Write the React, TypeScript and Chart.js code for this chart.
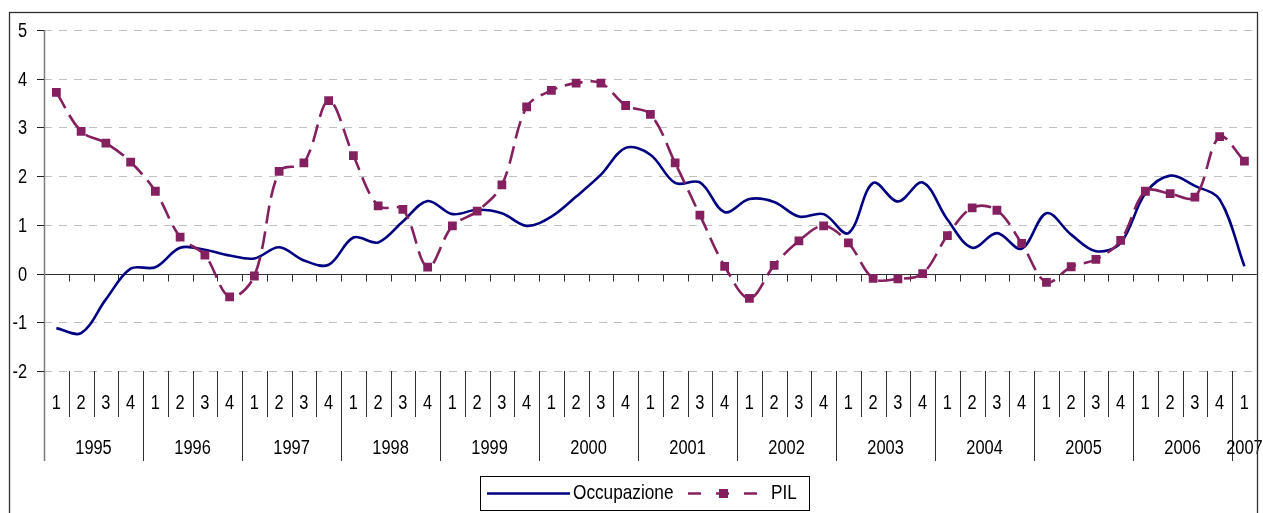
import React, { useEffect, useRef } from "react";
import { Chart, registerables } from "chart.js";

Chart.register(...registerables);

// ---- data ----
const years = ["1995", "1996", "1997", "1998", "1999", "2000", "2001", "2002", "2003", "2004", "2005", "2006", "2007"];
const quarterNames = ["1", "2", "3", "4"];
const lastYearQuarters = 1; // 2007 has only Q1

const occupazione = [
  -1.12, -1.22, -0.53, 0.1,
  0.13, 0.53, 0.49, 0.37,
  0.31, 0.54, 0.27, 0.18,
  0.74, 0.64, 1.07, 1.49,
  1.22, 1.31, 1.24, 0.98,
  1.17, 1.58, 2.03, 2.58,
  2.44, 1.86, 1.87, 1.26,
  1.53, 1.47, 1.17, 1.22,
  0.83, 1.86, 1.48, 1.87,
  1.11, 0.53, 0.83, 0.51,
  1.24, 0.8, 0.46, 0.63,
  1.65, 2.01, 1.8, 1.52,
  0.15,
];

const pil = [
  3.72, 2.92, 2.68, 2.29,
  1.69, 0.75, 0.38, -0.48,
  -0.05, 2.1, 2.27, 3.55,
  2.42, 1.39, 1.32, 0.13,
  0.98, 1.28, 1.82, 3.42,
  3.76, 3.91, 3.91, 3.45,
  3.27, 2.27, 1.2, 0.15,
  -0.51, 0.17, 0.67, 0.98,
  0.63, -0.1, -0.11, 0.0,
  0.78, 1.35, 1.3, 0.62,
  -0.18, 0.14, 0.29, 0.68,
  1.69, 1.64, 1.57, 2.81,
  2.31,
];

const yTicks = [5, 4, 3, 2, 1, 0, -1, -2];
const seriesNames = ["Occupazione", "PIL"];

// categories built from years and quarters
const categories: string[] = [];
const categoryYears: string[] = [];
years.forEach((yr, i) => {
  const n = i === years.length - 1 ? lastYearQuarters : 4;
  for (let q = 0; q < n; q++) {
    categories.push(quarterNames[q]);
    categoryYears.push(yr);
  }
});

const NAVY = "#000080";
const PLUM = "#84205F";
const FONT = '"Liberation Sans", Arial, sans-serif';
const SQUEEZE = 0.82;

function drawText(
  ctx: CanvasRenderingContext2D,
  text: string,
  x: number,
  y: number,
  size: number,
  align: CanvasTextAlign
) {
  ctx.save();
  ctx.translate(x, y);
  ctx.scale(SQUEEZE, 1);
  ctx.font = `${size}px ${FONT}`;
  ctx.fillStyle = "#000";
  ctx.textAlign = align;
  ctx.textBaseline = "middle";
  ctx.fillText(text, 0, 0);
  ctx.restore();
}

const px = (v: number) => Math.round(v) + 0.5;

const decorPlugin = {
  id: "decor",
  beforeDatasetsDraw(chart: any) {
    const { ctx, chartArea: a, scales } = chart;
    const x = scales.x;
    const y = scales.y;
    ctx.save();
    // dashed gridlines
    ctx.strokeStyle = "#c0c0c0";
    ctx.lineWidth = 1;
    ctx.setLineDash([8, 7]);
    for (const v of yTicks) {
      if (v === 0) continue;
      const py = px(y.getPixelForValue(v));
      ctx.beginPath();
      ctx.moveTo(a.left, py);
      ctx.lineTo(a.right, py);
      ctx.stroke();
    }
    ctx.setLineDash([]);
    // zero axis line with tick marks
    const y0 = px(y.getPixelForValue(0));
    ctx.strokeStyle = "#303030";
    ctx.lineWidth = 1.2;
    ctx.beginPath();
    ctx.moveTo(a.left, y0);
    ctx.lineTo(a.right, y0);
    ctx.stroke();
    ctx.lineWidth = 1;
    for (let k = 0; k <= categories.length; k++) {
      const bx = px(x.getPixelForValue(k - 0.5));
      ctx.beginPath();
      ctx.moveTo(bx, y0);
      ctx.lineTo(bx, y0 + 7);
      ctx.stroke();
    }
    ctx.restore();
  },
  afterDraw(chart: any) {
    const { ctx, chartArea: a, scales } = chart;
    const x = scales.x;
    const y = scales.y;
    ctx.save();

    const qBottom = a.bottom + 46;
    const yrBottom = a.bottom + 90;

    // category separators below the plot
    ctx.strokeStyle = "#303030";
    ctx.lineWidth = 1;
    for (let k = 1; k < categories.length; k++) {
      const bx = px(x.getPixelForValue(k - 0.5));
      const isYear = k % 4 === 0;
      ctx.beginPath();
      ctx.moveTo(bx, a.bottom);
      ctx.lineTo(bx, isYear ? yrBottom : qBottom);
      ctx.stroke();
    }

    // y axis line
    const axX = px(a.left);
    ctx.strokeStyle = "#808080";
    ctx.lineWidth = 1.6;
    ctx.beginPath();
    ctx.moveTo(axX, a.top);
    ctx.lineTo(axX, yrBottom);
    ctx.stroke();

    // y ticks and labels
    ctx.strokeStyle = "#202020";
    ctx.lineWidth = 1;
    for (const v of yTicks) {
      const py = px(y.getPixelForValue(v));
      ctx.beginPath();
      ctx.moveTo(a.left - 7, py);
      ctx.lineTo(a.left, py);
      ctx.stroke();
      drawText(ctx, String(v), a.left - 17, py + 0.5, 20, "right");
    }

    // quarter labels
    categories.forEach((q, i) => {
      drawText(ctx, q, x.getPixelForValue(i), a.bottom + 32, 20, "center");
    });

    // year labels
    let idx = 0;
    years.forEach((yr, i) => {
      const n = i === years.length - 1 ? lastYearQuarters : 4;
      const cx = x.getPixelForValue(idx + (n - 1) / 2);
      drawText(ctx, yr, cx, a.bottom + 77, 20, "center");
      idx += n;
    });

    // outer border
    ctx.strokeStyle = "#303030";
    ctx.lineWidth = 1.3;
    ctx.strokeRect(9.5, 12.5, 1248, 520);

    // legend
    const lx = 480.5;
    const ly = 476.5;
    const lw = 329;
    const lh = 34;
    ctx.fillStyle = "#fff";
    ctx.fillRect(lx, ly, lw, lh);
    ctx.strokeStyle = "#000";
    ctx.lineWidth = 1;
    ctx.strokeRect(lx, ly, lw, lh);
    const cy = 493.5;
    ctx.strokeStyle = NAVY;
    ctx.lineWidth = 2.6;
    ctx.beginPath();
    ctx.moveTo(487, cy);
    ctx.lineTo(570, cy);
    ctx.stroke();
    drawText(ctx, seriesNames[0], 573, cy, 21, "left");
    ctx.strokeStyle = PLUM;
    ctx.setLineDash([13, 15]);
    ctx.beginPath();
    ctx.moveTo(688, cy);
    ctx.lineTo(760, cy);
    ctx.stroke();
    ctx.setLineDash([]);
    ctx.fillStyle = PLUM;
    ctx.fillRect(719, cy - 4.5, 9, 9);
    drawText(ctx, seriesNames[1], 771, cy, 21, "left");

    ctx.restore();
  },
};

export default function App() {
  const canvasRef = useRef<HTMLCanvasElement | null>(null);

  useEffect(() => {
    const canvas = canvasRef.current;
    if (!canvas) return;
    const chart = new Chart(canvas, {
      type: "line",
      data: {
        labels: categories,
        datasets: [
          {
            label: seriesNames[0],
            data: occupazione,
            borderColor: NAVY,
            backgroundColor: NAVY,
            borderWidth: 2.6,
            pointRadius: 0,
            pointHoverRadius: 0,
            tension: 0.35,
            fill: false,
            order: 1,
          },
          {
            label: seriesNames[1],
            data: pil,
            borderColor: PLUM,
            backgroundColor: PLUM,
            borderWidth: 2.6,
            borderDash: [18, 8],
            pointStyle: "rect",
            pointRadius: 6.2,
            pointBorderWidth: 0,
            pointBackgroundColor: PLUM,
            pointBorderColor: PLUM,
            tension: 0.35,
            fill: false,
            order: 0,
          },
        ],
      },
      options: {
        responsive: false,
        animation: false,
        devicePixelRatio: 1,
        events: [],
        layout: { padding: { left: 44, right: 6, top: 30, bottom: 142 } },
        scales: {
          x: { type: "category", display: false, offset: true },
          y: { type: "linear", display: false, min: -2, max: 5 },
        },
        plugins: {
          legend: { display: false },
          tooltip: { enabled: false },
        },
      },
      plugins: [decorPlugin],
    });
    return () => chart.destroy();
  }, []);

  return (
    <div style={{ position: "absolute", left: 0, top: 0, width: 1263, height: 513, background: "#fff" }}>
      <canvas ref={canvasRef} width={1263} height={513} style={{ display: "block" }} />
    </div>
  );
}
